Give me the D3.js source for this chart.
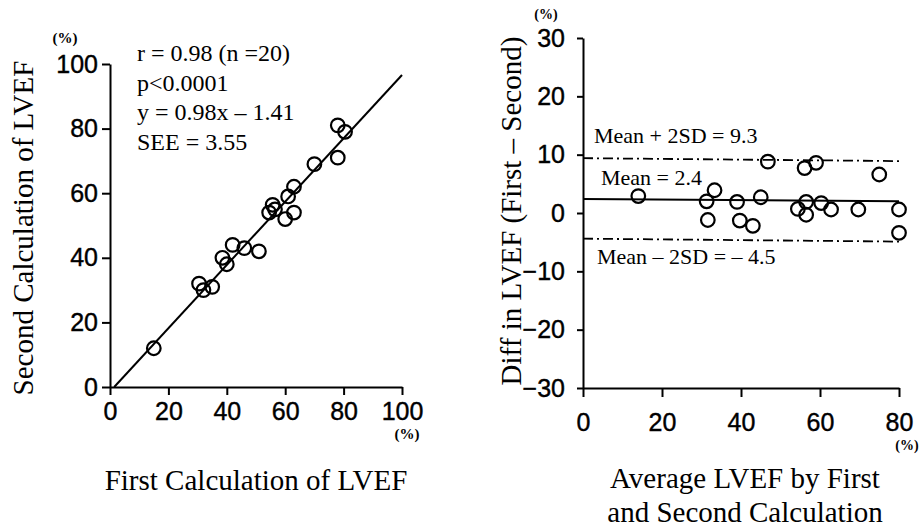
<!DOCTYPE html>
<html>
<head>
<meta charset="utf-8">
<script src="https://cdn.jsdelivr.net/npm/d3@7"></script>
<style>
  body { margin: 0; background: #fff; }
  .tick text { font-family: "Liberation Sans Narrow", "Arial Narrow", sans-serif; font-size: 25px; fill: #000; stroke: #000; stroke-width: 0.4; }
  .tick line, .domain { stroke: #000; stroke-width: 2; }
  .serif { font-family: "Liberation Serif", "Times New Roman", serif; fill: #000; }
</style>
</head>
<body>
<div id="mainChart"></div>
<script>
// left panel: first vs second calculation of LVEF
const firstCalc  = [15, 30.5, 32, 35, 38.5, 40, 42, 46, 51, 54.5, 55.7, 56.5, 60, 61, 63, 63, 70, 78, 78, 80.5];
const secondCalc = [12, 32, 30, 31, 40, 38, 44, 43, 42, 54, 56.4, 55, 52, 59, 62, 54, 69, 71, 81, 79];
const regSlope = 0.98;
const regIntercept = -1.41;
const leftTicks = [0, 20, 40, 60, 80, 100];
const leftStats = ['r = 0.98 (n =20)', 'p<0.0001', 'y = 0.98x \u2013 1.41', 'SEE = 3.55'];

// right panel: Bland-Altman
const avgLVEF  = [14, 31.3, 31.6, 33.3, 39, 39.7, 43, 45, 46.8, 54.4, 56.1, 56.5, 56.5, 59, 60.3, 62.8, 69.7, 75, 80, 80];
const diffLVEF = [2.9, 2, -1.2, 3.9, 1.9, -1.3, -2.2, 2.7, 8.8, 0.7, 7.7, 1.9, -0.3, 8.6, 1.7, 0.6, 0.6, 6.6, 0.6, -3.4];
const meanLine  = [[0, 2.4], [80, 2.0]];
const upperLine = [[0, 9.4], [80, 8.9]];
const lowerLine = [[0, -4.4], [80, -4.9]];
const rightXTicks = [0, 20, 40, 60, 80];
const rightYTicks = [-30, -20, -10, 0, 10, 20, 30];
const rightLabels = ['Mean + 2SD = 9.3', 'Mean = 2.4', 'Mean \u2013 2SD = \u2013 4.5'];

const W = 921, H = 527;
const svg = d3.select('#mainChart').append('svg')
    .attr('width', W).attr('height', H);

// ---------- left ----------
const xL = d3.scaleLinear().domain([0, 100]).range([110, 402]);
const yL = d3.scaleLinear().domain([0, 100]).range([387, 64]);

svg.append('g')
    .attr('transform', `translate(0,${yL(0)})`)
    .call(d3.axisBottom(xL).tickValues(leftTicks).tickSize(8).tickPadding(7).tickSizeOuter(0));
svg.append('g')
    .attr('transform', `translate(${xL(0)},0)`)
    .call(d3.axisLeft(yL).tickValues(leftTicks).tickSize(8).tickPadding(4).tickSizeOuter(0));

const x0 = -regIntercept / regSlope;
svg.append('line')
    .attr('x1', xL(x0)).attr('y1', yL(0))
    .attr('x2', xL(100)).attr('y2', yL(regSlope * 100 + regIntercept))
    .attr('stroke', '#000').attr('stroke-width', 2);

svg.append('g').selectAll('circle')
    .data(firstCalc)
    .join('circle')
    .attr('cx', d => xL(d))
    .attr('cy', (d, i) => yL(secondCalc[i]))
    .attr('r', 6.8)
    .attr('fill', 'none').attr('stroke', '#000').attr('stroke-width', 2.2);

svg.append('g').selectAll('text')
    .data(leftStats)
    .join('text')
    .attr('class', 'serif')
    .attr('x', 137)
    .attr('y', (d, i) => 61 + i * 29.5)
    .style('font-size', '24px')
    .text(d => d);

svg.append('text').attr('class', 'serif')
    .attr('transform', 'translate(33,228) rotate(-90)')
    .attr('text-anchor', 'middle')
    .style('font-size', '29px')
    .text('Second Calculation of LVEF');
svg.append('text').attr('class', 'serif')
    .attr('x', 256).attr('y', 490)
    .attr('text-anchor', 'middle')
    .style('font-size', '29px')
    .text('First Calculation of LVEF');
svg.append('text').attr('class', 'serif')
    .attr('x', 65).attr('y', 43)
    .attr('text-anchor', 'middle')
    .style('font-size', '15px').style('font-weight', 'bold')
    .text('(%)');
svg.append('text').attr('class', 'serif')
    .attr('x', 407).attr('y', 439)
    .attr('text-anchor', 'middle')
    .style('font-size', '15px').style('font-weight', 'bold')
    .text('(%)');

// ---------- right ----------
const xR = d3.scaleLinear().domain([0, 80]).range([583, 899]);
const yR = d3.scaleLinear().domain([-30, 30]).range([388, 38]);

svg.append('g')
    .attr('transform', `translate(0,${yR(-30)})`)
    .call(d3.axisBottom(xR).tickValues(rightXTicks).tickSize(9).tickPadding(16).tickSizeOuter(0));
svg.append('g')
    .attr('transform', `translate(${xR(0)},0)`)
    .call(d3.axisLeft(yR).tickValues(rightYTicks).tickSize(6).tickPadding(12).tickSizeOuter(0));

const line = d3.line().x(d => xR(d[0])).y(d => yR(d[1]));
svg.append('path').attr('d', line(meanLine))
    .attr('fill', 'none').attr('stroke', '#000').attr('stroke-width', 2);
[upperLine, lowerLine].forEach(l => {
    svg.append('path').attr('d', line(l))
        .attr('fill', 'none').attr('stroke', '#000').attr('stroke-width', 1.8)
        .attr('stroke-dasharray', '10,4,2,4');
});

svg.append('g').selectAll('circle')
    .data(avgLVEF)
    .join('circle')
    .attr('cx', d => xR(d))
    .attr('cy', (d, i) => yR(diffLVEF[i]))
    .attr('r', 6.8)
    .attr('fill', 'none').attr('stroke', '#000').attr('stroke-width', 2.2);

// label anchors in data units of the right y scale
const labelX = [594, 601, 597];
const labelY = [13.3, 6.2, -7.3];
svg.append('g').selectAll('text')
    .data(rightLabels)
    .join('text')
    .attr('class', 'serif')
    .attr('x', (d, i) => labelX[i])
    .attr('y', (d, i) => yR(labelY[i]) + 8)
    .style('font-size', '22px')
    .text(d => d);

svg.append('text').attr('class', 'serif')
    .attr('transform', 'translate(521,211) rotate(-90)')
    .attr('text-anchor', 'middle')
    .style('font-size', '29px')
    .text('Diff in LVEF (First \u2013 Second)');
svg.append('text').attr('class', 'serif')
    .attr('x', 745).attr('y', 488)
    .attr('text-anchor', 'middle')
    .style('font-size', '29px')
    .text('Average LVEF by First');
svg.append('text').attr('class', 'serif')
    .attr('x', 745).attr('y', 522)
    .attr('text-anchor', 'middle')
    .style('font-size', '29px')
    .text('and Second Calculation');
svg.append('text').attr('class', 'serif')
    .attr('x', 546).attr('y', 19)
    .attr('text-anchor', 'middle')
    .style('font-size', '14px').style('font-weight', 'bold')
    .text('(%)');
svg.append('text').attr('class', 'serif')
    .attr('x', 907).attr('y', 450)
    .attr('text-anchor', 'middle')
    .style('font-size', '14px').style('font-weight', 'bold')
    .text('(%)');
</script>
</body>
</html>
